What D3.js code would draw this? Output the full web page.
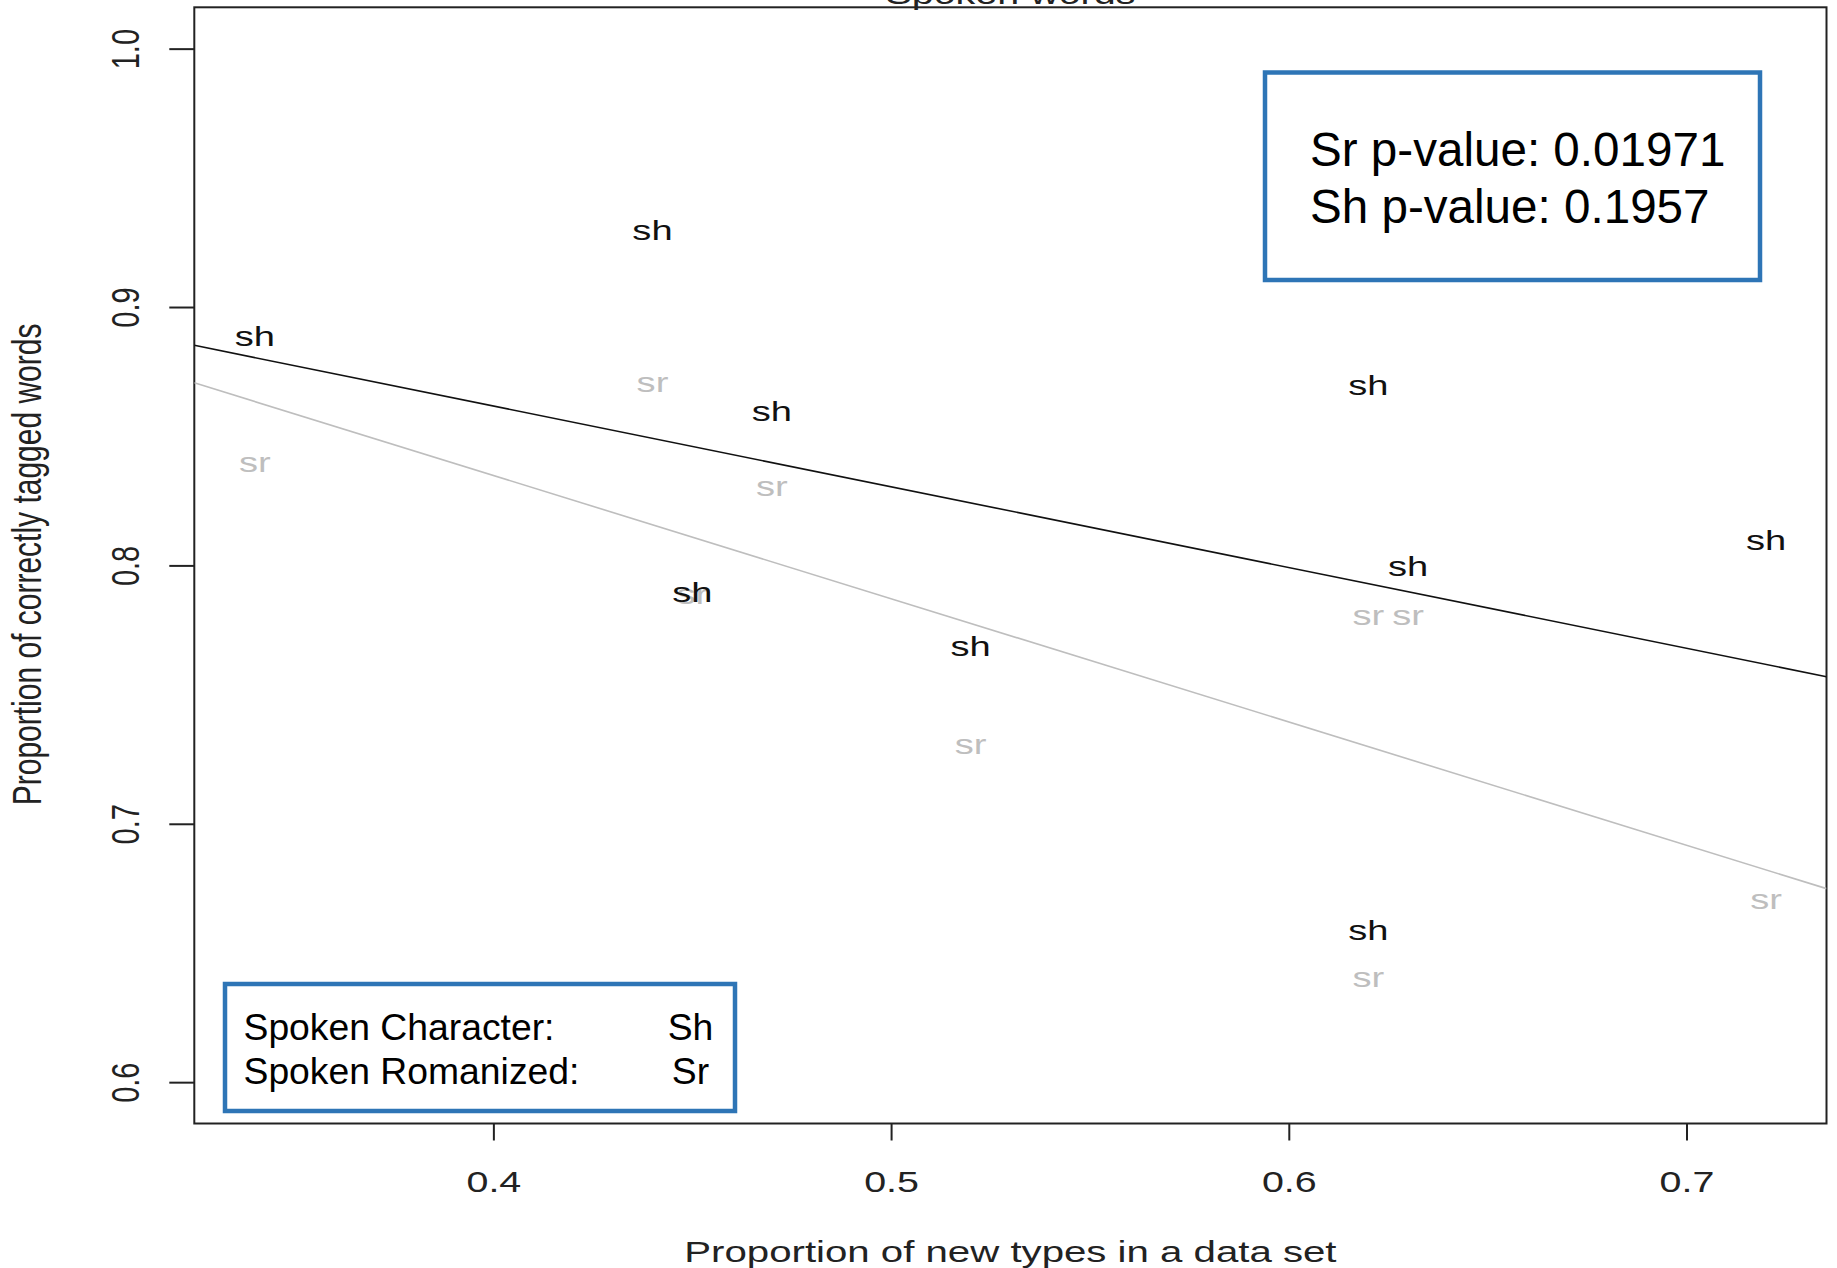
<!DOCTYPE html>
<html>
<head>
<meta charset="utf-8">
<script src="https://cdn.jsdelivr.net/npm/d3@7"></script>
<style>
  body { margin: 0; background: #fff; }
  text { font-family: "Liberation Sans", Arial, sans-serif; }
</style>
</head>
<body>
<div id="chart"></div>
<script>
// proportion of new types per data set, and proportion of correctly tagged words
const newTypes = [0.34, 0.44, 0.45, 0.47, 0.52, 0.62, 0.62, 0.63, 0.72];
const shValues = [0.889, 0.930, 0.790, 0.860, 0.769, 0.870, 0.659, 0.800, 0.810];
const srValues = [0.840, 0.871, 0.789, 0.831, 0.731, 0.781, 0.641, 0.781, 0.671];

const xTicks = [0.4, 0.5, 0.6, 0.7];
const yTicks = [0.6, 0.7, 0.8, 0.9, 1.0];
const yLimits = [0.6, 1.0];

const pValueLines = ["Sr p-value: 0.01971", "Sh p-value: 0.1957"];
const legendRows = [["Spoken Character:", "Sh"], ["Spoken Romanized:", "Sr"]];

const width = 1837, height = 1268;
const box = { left: 194.3, right: 1826.5, top: 7.3, bottom: 1123.5 };
const stretch = 1.36;   // the R plot was stretched sideways
const rFont = 29;
const srColor = "#bebebe";
const boxBlue = "#2e75b6";

const svg = d3.select("#chart").append("svg")
    .attr("width", width)
    .attr("height", height);

svg.append("rect")
    .attr("width", width)
    .attr("height", height)
    .attr("fill", "#fff");

// R pads the axis range by 4% on each side
const xExt = d3.extent(newTypes);
const xPad = (xExt[1] - xExt[0]) * 0.04;
const yPad = (yLimits[1] - yLimits[0]) * 0.04;

const xScale = d3.scaleLinear()
    .domain([xExt[0] - xPad, xExt[1] + xPad])
    .range([box.left, box.right]);
const yScale = d3.scaleLinear()
    .domain([yLimits[0] - yPad, yLimits[1] + yPad])
    .range([box.bottom, box.top]);

// axes
const xAxis = d3.axisBottom(xScale)
    .tickValues(xTicks)
    .tickSize(17)
    .tickFormat(d3.format(".1f"));
const yAxis = d3.axisLeft(yScale)
    .tickValues(yTicks)
    .tickSize(25)
    .tickFormat(d3.format(".1f"));

const gx = svg.append("g")
    .attr("transform", `translate(0,${box.bottom})`)
    .call(xAxis);
gx.select(".domain").remove();
gx.selectAll("line").attr("stroke", "#222").attr("stroke-width", 2);
gx.selectAll("text")
    .attr("y", null).attr("dy", null)
    .attr("fill", "#222")
    .attr("font-size", rFont)
    .attr("font-family", null)
    .attr("transform", `translate(0,68.5) scale(${stretch},1)`);

const gy = svg.append("g")
    .attr("transform", `translate(${box.left},0)`)
    .call(yAxis);
gy.select(".domain").remove();
gy.selectAll("line").attr("stroke", "#222").attr("stroke-width", 2);
gy.selectAll("text")
    .attr("x", null).attr("dy", null)
    .attr("text-anchor", "middle")
    .attr("fill", "#222")
    .attr("font-size", rFont)
    .attr("font-family", null)
    .attr("transform", `translate(-55.3,0) scale(${stretch},1) rotate(-90)`);

// plot frame
svg.append("rect")
    .attr("x", box.left)
    .attr("y", box.top)
    .attr("width", box.right - box.left)
    .attr("height", box.bottom - box.top)
    .attr("fill", "none")
    .attr("stroke", "#222")
    .attr("stroke-width", 2);

// titles
const midX = (box.left + box.right) / 2;
svg.append("text")
    .attr("transform", `translate(${midX},4) scale(${stretch},1)`)
    .attr("text-anchor", "middle")
    .attr("font-size", rFont)
    .attr("fill", "#222")
    .text("Spoken words");

svg.append("text")
    .attr("transform", `translate(${midX},1262) scale(1.34,1)`)
    .attr("text-anchor", "middle")
    .attr("font-size", 30)
    .attr("fill", "#222")
    .text("Proportion of new types in a data set");

svg.append("text")
    .attr("transform", `translate(41,${(box.top + box.bottom) / 2 - 1}) scale(1.34,1) rotate(-90)`)
    .attr("text-anchor", "middle")
    .attr("font-size", 30)
    .attr("fill", "#222")
    .text("Proportion of correctly tagged words");

// least squares fit
function fit(xs, ys) {
    const mx = d3.mean(xs), my = d3.mean(ys);
    const b = d3.sum(xs, (x, i) => (x - mx) * (ys[i] - my)) / d3.sum(xs, x => (x - mx) * (x - mx));
    return { a: my - b * mx, b: b };
}

svg.append("clipPath").attr("id", "plotClip")
    .append("rect")
    .attr("x", box.left).attr("y", box.top)
    .attr("width", box.right - box.left)
    .attr("height", box.bottom - box.top);

const plot = svg.append("g").attr("clip-path", "url(#plotClip)");

const line = d3.line()
    .x(d => xScale(d[0]))
    .y(d => yScale(d[1]));

const fits = [
    { ys: srValues, color: srColor },
    { ys: shValues, color: "#111" }
];
fits.forEach(f => {
    const m = fit(newTypes, f.ys);
    const ends = xScale.domain().map(x => [x, m.a + m.b * x]);
    plot.append("path")
        .attr("d", line(ends))
        .attr("fill", "none")
        .attr("stroke", f.color)
        .attr("stroke-width", 1.6);
});

// point labels
const labelSets = [
    { ys: srValues, label: "sr", color: srColor },
    { ys: shValues, label: "sh", color: "#111" }
];
labelSets.forEach(s => {
    plot.selectAll(null)
        .data(newTypes.map((x, i) => [x, s.ys[i]]))
        .enter().append("text")
        .attr("transform", d => `translate(${xScale(d[0])},${yScale(d[1])}) scale(${stretch},1)`)
        .attr("dy", "0.37em")
        .attr("text-anchor", "middle")
        .attr("font-size", rFont - 1)
        .attr("fill", s.color)
        .text(s.label);
});

// p-value box
svg.append("rect")
    .attr("x", 1265).attr("y", 72.5)
    .attr("width", 495).attr("height", 207.5)
    .attr("fill", "#fff")
    .attr("stroke", boxBlue)
    .attr("stroke-width", 4.5);

svg.selectAll(".pval")
    .data(pValueLines)
    .enter().append("text")
    .attr("class", "pval")
    .attr("x", 1310)
    .attr("y", (d, i) => 166 + i * 56.7)
    .attr("font-size", 47.6)
    .attr("fill", "#000")
    .text(d => d);

// legend box
svg.append("rect")
    .attr("x", 225).attr("y", 984)
    .attr("width", 510).attr("height", 127)
    .attr("fill", "#fff")
    .attr("stroke", boxBlue)
    .attr("stroke-width", 4.5);

const rows = svg.selectAll(".legendRow")
    .data(legendRows)
    .enter().append("g")
    .attr("class", "legendRow")
    .attr("transform", (d, i) => `translate(0,${1040 + i * 44})`);
rows.append("text")
    .attr("x", 243.5)
    .attr("font-size", 37.3)
    .attr("fill", "#000")
    .text(d => d[0]);
rows.append("text")
    .attr("x", 690.5)
    .attr("text-anchor", "middle")
    .attr("font-size", 37.3)
    .attr("fill", "#000")
    .text(d => d[1]);
</script>
</body>
</html>
